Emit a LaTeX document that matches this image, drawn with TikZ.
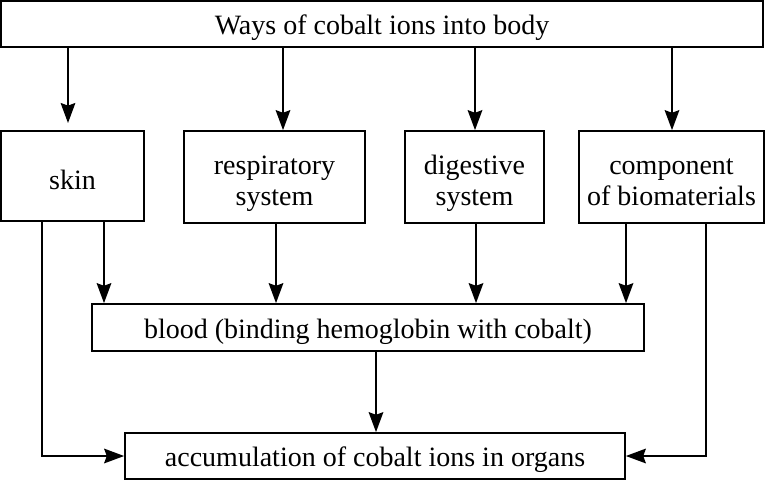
\documentclass[tikz,border=0pt]{standalone}
\usepackage{fontspec}
\setmainfont{Liberation Serif}
\usetikzlibrary{arrows.meta,positioning}
\newcommand{\twolines}[2]{\begin{tabular}{@{}c@{}}\rule{0pt}{26pt}#1\\#2\end{tabular}}
\begin{document}
\begin{tikzpicture}[x=0.75pt,y=-0.75pt,
  box/.style={draw,line width=1.3pt,inner sep=0pt,align=center,
    font=\fontsize{21}{23.3}\selectfont,
    execute at begin node={\rule{0pt}{20.5pt}}},
  twoline/.style={draw,line width=1.3pt,inner sep=0pt,
    font=\fontsize{21}{23.3}\selectfont},
  arr/.style={line width=1.3pt,-{Stealth[length=15pt,width=11pt,inset=2pt]}}]
\useasboundingbox (0,0) rectangle (766,481);
\node[box,minimum width=762*0.75pt,minimum height=46*0.75pt] (top) at (382,24) {Ways of cobalt ions into body};
\node[box,minimum width=143*0.75pt,minimum height=90*0.75pt] (skin) at (72.5,176) {skin};
\node[twoline,minimum width=181*0.75pt,minimum height=92*0.75pt] (resp) at (274.5,177) {\twolines{respiratory}{system}};
\node[twoline,minimum width=139*0.75pt,minimum height=92*0.75pt] (dig) at (474.5,177) {\twolines{digestive}{system}};
\node[twoline,minimum width=185*0.75pt,minimum height=92*0.75pt] (comp) at (671.5,177) {\twolines{component}{of biomaterials}};
\node[box,minimum width=552*0.75pt,minimum height=47*0.75pt] (blood) at (368,327.5) {blood (binding hemoglobin with cobalt)};
\node[box,minimum width=500*0.75pt,minimum height=46*0.75pt] (acc) at (375,456) {accumulation of cobalt ions in organs};
% x positions
\coordinate (xa) at (68,123);
\coordinate (xb) at (283,0);
\coordinate (xc) at (475,0);
\coordinate (xd) at (672,0);
\coordinate (xe) at (42,0);
\coordinate (xf) at (104,0);
\coordinate (xg) at (276,0);
\coordinate (xh) at (476,0);
\coordinate (xi) at (626,0);
\coordinate (xj) at (706,0);
\coordinate (xk) at (376,0);
% from top
\draw[arr] (top.south -| xa) -- (xa);
\draw[arr] (top.south -| xb) -- (resp.north -| xb);
\draw[arr] (top.south -| xc) -- (dig.north -| xc);
\draw[arr] (top.south -| xd) -- (comp.north -| xd);
% to blood
\draw[arr] (skin.south -| xf) -- (blood.north -| xf);
\draw[arr] (resp.south -| xg) -- (blood.north -| xg);
\draw[arr] (dig.south -| xh) -- (blood.north -| xh);
\draw[arr] (comp.south -| xi) -- (blood.north -| xi);
% blood to accumulation
\draw[arr] (blood.south -| xk) -- (acc.north -| xk);
% side paths
\draw[arr] (skin.south -| xe) -- (acc.west -| xe) -- (acc.west);
\draw[arr] (comp.south -| xj) -- (acc.east -| xj) -- (acc.east);
\end{tikzpicture}
\end{document}
